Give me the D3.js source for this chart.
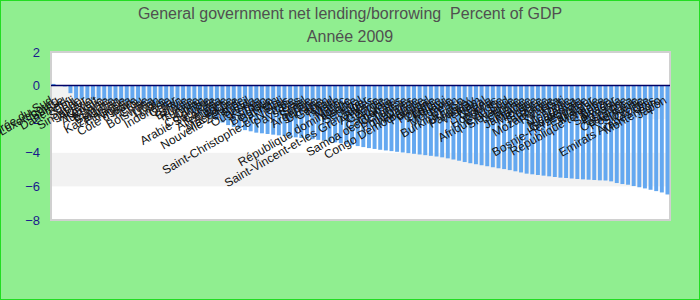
<!DOCTYPE html>
<html>
<head>
<meta charset="utf-8">
<script src="https://cdnjs.cloudflare.com/ajax/libs/d3/7.8.5/d3.min.js"></script>
<style>
  body { margin: 0; }
  .chart { width: 700px; height: 300px; }
</style>
</head>
<body>
<div class="chart"></div>
<script>
var countries = ["Corée du Sud", "Luxembourg", "Suisse", "Danemark", "Chili", "Suède", "Singapour", "Algérie", "Koweït", "Australie",
	"Estonie", "Bulgarie", "Kazakhstan", "Finlande", "Nigeria", "Côte d'Ivoire", "Pérou", "Chine", "Botswana", "Liban",
	"Libye", "Indonésie", "Qatar", "Iran", "Bolivie", "Russie", "Turquie", "Oman", "Colombie", "Arabie Saoudite",
	"Canada", "Allemagne", "Autriche", "Macédoine", "Nouvelle-Zélande", "Brésil", "Ouganda", "Kenya", "Togo", "Belgique",
	"Bahreïn", "Mali", "Saint-Christophe-et-Niévès", "Italie", "Pays-Bas", "Israël", "Serbie", "Argentine", "Ukraine", "Gabon",
	"Tchad", "Malte", "Maroc", "République dominicaine", "Albanie", "Sénégal", "Niger", "Saint-Vincent-et-les Grenadines", "Arménie", "Géorgie",
	"Angola", "Cameroun", "Samoa occidentales", "Tunisie", "Philippines", "Thaïlande", "Congo Démocratique", "Portugal", "Hongrie", "Zambie",
	"Malawi", "Moldavie", "Bénin", "Burkina Faso", "Uruguay", "Paraguay", "Vietnam", "Népal", "Ghana", "Honduras",
	"Pologne", "Afrique du Sud", "Slovaquie", "Lettonie", "Lituanie", "Jamaïque", "Mexique", "France", "Tanzanie", "Mozambique",
	"Rwanda", "Haïti", "Mongolie", "Nicaragua", "Guatemala", "Bosnie-Herzégovine", "Equateur", "Malaisie", "République tchèque", "Belize",
	"Salvador", "Panama", "Espagne", "Costa Rica", "Roumanie", "Slovénie", "Croatie", "Emirats Arabes Unis", "Monténégro", "Japon"];

var values2009 = [0.1, 0.0, -0.05, -0.45, -0.78, -0.8, -0.82, -0.84, -0.87, -0.9,
	-0.92, -0.94, -0.96, -0.98, -1.0, -1.03, -1.07, -1.1, -1.15, -1.2,
	-1.25, -1.32, -1.4, -1.47, -1.55, -1.62, -1.7, -1.8, -1.92, -2.05,
	-2.2, -2.35, -2.45, -2.55, -2.65, -2.72, -2.8, -2.84, -2.88, -2.92,
	-2.96, -3.0, -3.04, -3.08, -3.12, -3.15, -3.19, -3.23, -3.28, -3.33,
	-3.38, -3.43, -3.48, -3.54, -3.6, -3.66, -3.72, -3.77, -3.82, -3.86,
	-3.9, -3.94, -3.98, -4.02, -4.06, -4.1, -4.14, -4.18, -4.22, -4.27,
	-4.33, -4.4, -4.47, -4.55, -4.62, -4.68, -4.74, -4.8, -4.86, -4.92,
	-4.97, -5.03, -5.1, -5.17, -5.24, -5.28, -5.32, -5.36, -5.4, -5.44,
	-5.48, -5.5, -5.53, -5.56, -5.58, -5.6, -5.62, -5.64, -5.65, -5.7,
	-5.8, -5.86, -5.9, -5.98, -6.05, -6.12, -6.2, -6.28, -6.36, -6.48];

var yTicks = [2, 0, -2, -4, -6, -8];
var titleLines = ["General government net lending/borrowing  Percent of GDP", "Année 2009"];

var charter = function () {
	var width = 700, height = 300;
	var plot = {left: 51, right: 670, top: 52, bottom: 220};

	var init = function () {
		var paper = d3.select('.chart').append("svg")
			.attr("width", width)
			.attr("height", height);

		paper.append("rect")
			.attr("x", 0.5).attr("y", 0.5)
			.attr("width", width - 1).attr("height", height - 1)
			.attr("fill", "#90ee90")
			.attr("stroke", "#22dd22");

		var x = d3.scaleBand()
			.domain(countries)
			.range([plot.left, plot.right])
			.paddingInner(0.3)
			.paddingOuter(0.1);

		var y = d3.scaleLinear()
			.domain([-8, 2])
			.range([plot.bottom, plot.top]);

		// plot area with alternating bands
		paper.append("rect")
			.attr("x", plot.left).attr("y", plot.top)
			.attr("width", plot.right - plot.left)
			.attr("height", plot.bottom - plot.top)
			.attr("fill", "white")
			.attr("stroke", "#d0d0d0")
			.attr("stroke-width", 2);

		var bands = [[0, -2], [-4, -6]];
		paper.selectAll(".band").data(bands).enter().append("rect")
			.attr("x", plot.left + 1)
			.attr("width", plot.right - plot.left - 2)
			.attr("y", function (d) { return y(d[0]); })
			.attr("height", function (d) { return y(d[1]) - y(d[0]); })
			.attr("fill", "#f2f2f2");

		paper.selectAll(".bar").data(values2009).enter().append("rect")
			.attr("x", function (d, i) { return x(countries[i]); })
			.attr("width", x.bandwidth())
			.attr("y", function (d) { return Math.min(y(d), y(0)); })
			.attr("height", function (d) { return Math.abs(y(d) - y(0)); })
			.attr("fill", "#64a8f0");

		paper.append("line")
			.attr("x1", plot.left).attr("x2", plot.right)
			.attr("y1", y(0)).attr("y2", y(0))
			.attr("stroke", "#000066")
			.attr("stroke-width", 1.5);

		var yAxis = paper.append("g")
			.attr("transform", "translate(" + plot.left + ",0)")
			.call(d3.axisLeft(y).tickValues(yTicks).tickSize(0).tickPadding(11));
		yAxis.select(".domain").remove();
		yAxis.selectAll("text")
			.attr("fill", "#1a1a8c")
			.style("font-family", "Liberation Sans, Arial, sans-serif")
			.style("font-size", "13px");

		// category labels, rotated at the zero line
		paper.selectAll(".lbl").data(countries).enter().append("text")
			.attr("transform", function (d) {
				return "translate(" + (x(d) + x.bandwidth() / 2) + "," + (y(0) + 17) + ") rotate(-30)";
			})
			.attr("text-anchor", "end")
			.attr("fill", "#111")
			.style("font-family", "Liberation Sans, Arial, sans-serif")
			.style("font-size", "12px")
			.text(function (d) { return d; });

		paper.selectAll(".title").data(titleLines).enter().append("text")
			.attr("x", width / 2)
			.attr("y", function (d, i) { return 19 + i * 23; })
			.attr("text-anchor", "middle")
			.attr("fill", "#505050")
			.style("white-space", "pre")
			.style("font-family", "Liberation Sans, Arial, sans-serif")
			.style("font-size", "16px")
			.text(function (d) { return d; });
	};

	return Object.freeze({init: init});
};

var c = charter();
c.init();
</script>
</body>
</html>
